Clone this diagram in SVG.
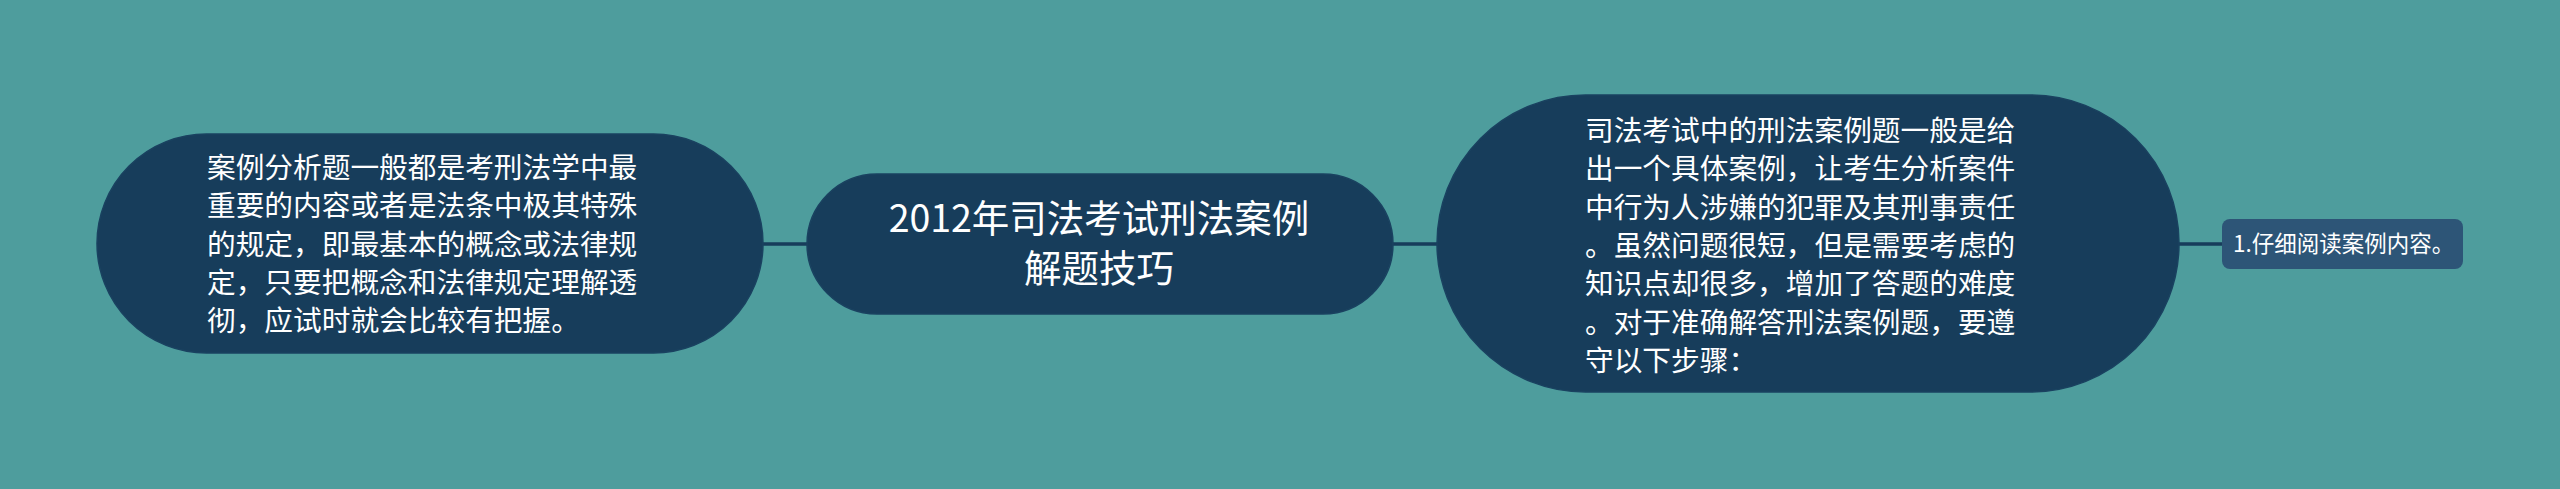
<svg xmlns="http://www.w3.org/2000/svg" width="2560" height="489" viewBox="0 0 2560 489">
<style>
.bg{fill:#4E9D9D}
.node{fill:#173D5B;stroke:#1A4260;stroke-width:1.5}
.sub{fill:#2D5577}
.edge{stroke:#173D5B;stroke-width:3.5;fill:none}
.t{fill:#FFFFFF;font-family:"Noto Sans CJK SC","Noto Sans",sans-serif}
.body{font-size:28.7px}
.title{font-size:37.5px;text-anchor:middle}
.small{font-size:22.5px}
</style>
<rect class="bg" x="0" y="0" width="2560" height="489"/>
<g id="connectors">
<line class="edge" x1="762" y1="244" x2="808" y2="244"/>
<line class="edge" x1="1392" y1="244" x2="1438" y2="244"/>
<line class="edge" x1="2178" y1="244" x2="2224" y2="244"/>
</g>
<g id="node-left">
<rect class="node" x="97" y="134" width="666" height="219" rx="109.5" ry="109.5"/>
<text class="t body" x="207"><tspan x="207" y="178">案例分析题一般都是考刑法学中最</tspan><tspan x="207" y="216.3">重要的内容或者是法条中极其特殊</tspan><tspan x="207" y="254.6">的规定，即最基本的概念或法律规</tspan><tspan x="207" y="292.9">定，只要把概念和法律规定理解透</tspan><tspan x="207" y="331.2">彻，应试时就会比较有把握。</tspan></text>
</g>
<g id="node-center">
<rect class="node" x="807" y="174" width="586" height="140" rx="70" ry="70"/>
<text class="t title"><tspan x="1099" y="232">2012年司法考试刑法案例</tspan><tspan x="1099" y="282">解题技巧</tspan></text>
</g>
<g id="node-right">
<rect class="node" x="1437" y="95" width="742" height="297" rx="148.5" ry="148.5"/>
<text class="t body"><tspan x="1585" y="141">司法考试中的刑法案例题一般是给</tspan><tspan x="1585" y="179.3">出一个具体案例，让考生分析案件</tspan><tspan x="1585" y="217.6">中行为人涉嫌的犯罪及其刑事责任</tspan><tspan x="1585" y="255.9">。虽然问题很短，但是需要考虑的</tspan><tspan x="1585" y="294.2">知识点却很多，增加了答题的难度</tspan><tspan x="1585" y="332.5">。对于准确解答刑法案例题，要遵</tspan><tspan x="1585" y="370.8">守以下步骤：</tspan></text>
</g>
<g id="node-step1">
<rect class="sub" x="2222" y="219" width="241" height="50" rx="8" ry="8"/>
<text class="t small" x="2233" y="252">1.仔细阅读案例内容。</text>
</g>
</svg>
